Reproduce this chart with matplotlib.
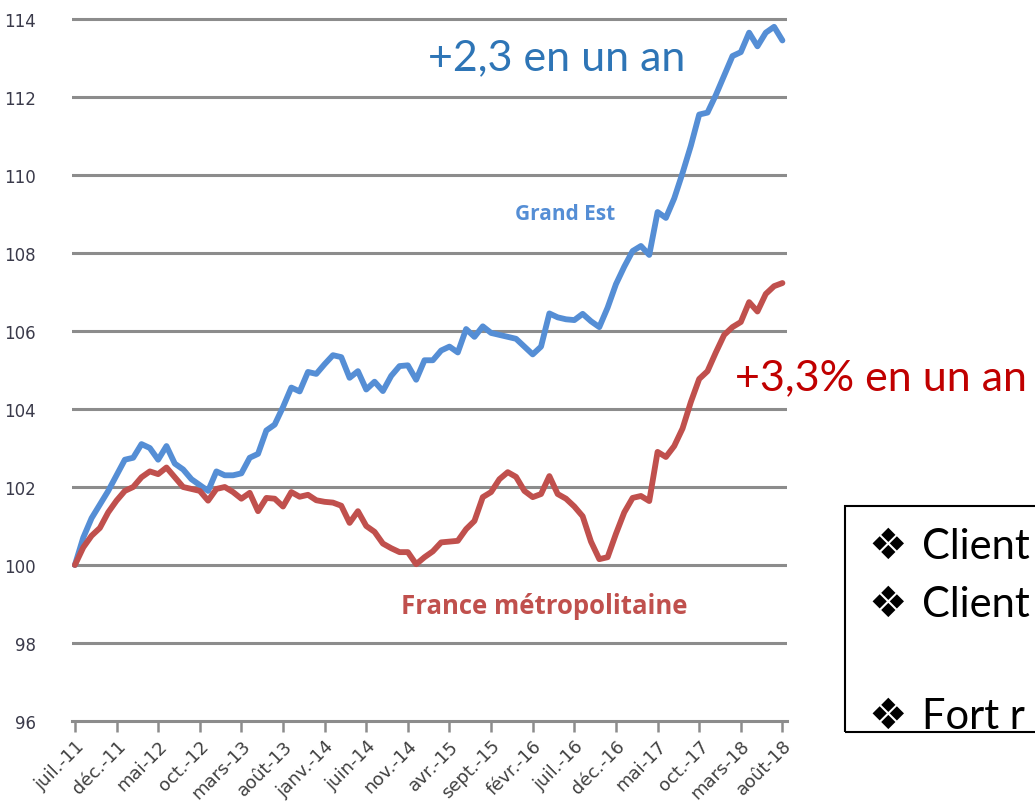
import numpy as np
import matplotlib.pyplot as plt
from matplotlib.patches import Rectangle

# monthly index, juil.-11 .. août-18 (86 months)
grand_est = [
    100.0, 100.7, 101.2, 101.55, 101.9, 102.3, 102.7, 102.75, 103.1, 103.0,
    102.7, 103.05, 102.6, 102.45, 102.2, 102.05, 101.9, 102.4, 102.3, 102.3,
    102.35, 102.75, 102.85, 103.45, 103.6, 104.05, 104.55, 104.45, 104.95, 104.9,
    105.15, 105.38, 105.33, 104.8, 104.97, 104.5, 104.7, 104.46, 104.85, 105.1,
    105.12, 104.75, 105.25, 105.25, 105.5, 105.6, 105.45, 106.05, 105.85, 106.12,
    105.95, 105.9, 105.85, 105.8, 105.6, 105.4, 105.6, 106.45, 106.35, 106.3,
    106.28, 106.44, 106.25, 106.1, 106.6, 107.2, 107.65, 108.05, 108.18, 107.95,
    109.05, 108.9, 109.4, 110.05, 110.75, 111.55, 111.6, 112.05, 112.55, 113.05,
    113.15, 113.65, 113.3, 113.65, 113.8, 113.45,
]
france = [
    100.0, 100.45, 100.75, 100.95, 101.35, 101.65, 101.9, 102.0, 102.25, 102.4,
    102.33, 102.5, 102.25, 102.0, 101.95, 101.9, 101.65, 101.95, 102.0, 101.87,
    101.7, 101.85, 101.38, 101.72, 101.7, 101.5, 101.87, 101.75, 101.8, 101.66,
    101.62, 101.6, 101.52, 101.08, 101.38, 101.0, 100.85, 100.55, 100.43, 100.33,
    100.33, 100.02, 100.2, 100.35, 100.58, 100.6, 100.62, 100.92, 101.13, 101.74,
    101.87, 102.2, 102.38, 102.26, 101.9, 101.74, 101.82, 102.28, 101.82, 101.7,
    101.5, 101.25, 100.6, 100.15, 100.2, 100.8, 101.35, 101.72, 101.77, 101.64,
    102.9, 102.77, 103.05, 103.5, 104.18, 104.77, 104.97, 105.45, 105.9, 106.1,
    106.23, 106.74, 106.5, 106.95, 107.15, 107.23,
]
tick_labels = ["juil.-11", "déc.-11", "mai-12", "oct.-12", "mars-13", "août-13",
               "janv.-14", "juin-14", "nov.-14", "avr.-15", "sept.-15", "févr.-16",
               "juil.-16", "déc.-16", "mai-17", "oct.-17", "mars-18", "août-18"]
y_ticks = [96, 98, 100, 102, 104, 106, 108, 110, 112, 114]
box_lines = ["Client", "Client", "Fort r"]

W, H = 1035, 812


def fx(px):
    return px / W


def fy(py):
    return 1 - py / H


def main():
    fig = plt.figure(figsize=(W / 100, H / 100), dpi=100)
    top_px = 20 - 0.3 * 39
    ax = fig.add_axes([fx(72), fy(722), fx(787) - fx(72), fy(top_px) - fy(722)])

    months = np.arange(len(grand_est))
    ax.set_xlim(-0.35, 85.55)
    ax.set_ylim(96, 114.3)

    for v in y_ticks[1:]:
        ax.axhline(v, color='#8c8c8c', linewidth=2.2, zorder=1)

    ax.plot(months, grand_est, color='#558ed5', linewidth=4.2, zorder=3,
            solid_capstyle='round', solid_joinstyle='round')
    ax.plot(months, france, color='#c0504d', linewidth=4.2, zorder=3,
            solid_capstyle='round', solid_joinstyle='round')

    for s in ['top', 'right', 'left']:
        ax.spines[s].set_visible(False)
    ax.spines['bottom'].set_color('#8c8c8c')
    ax.spines['bottom'].set_linewidth(2.2)

    ax.set_yticks(y_ticks)
    ax.set_yticklabels([str(v) for v in y_ticks], fontsize=12, color='#3a3a4a')
    ax.tick_params(axis='y', length=0, pad=26)

    ax.set_xticks(np.arange(0, 86, 5))
    ax.set_xticklabels(tick_labels, rotation=45, ha='right', va='top',
                       rotation_mode='anchor', fontsize=13, color='#404040')
    ax.tick_params(axis='x', length=8, width=1.8, color='#8c8c8c', pad=3)

    # series labels
    ax.text(58.9, 109.02, "Grand Est", color='#558ed5', fontsize=15,
            fontweight='bold', family='Open Sans', ha='center', va='center')
    ax.text(56.4, 98.97, "France métropolitaine", color='#c0504d', fontsize=18.5,
            fontweight='bold', family='Open Sans', ha='center', va='center')

    # annotations
    fig.text(fx(428), fy(58), "+2,3 en un an", color='#2e75b6', fontsize=31,
             family='Lato', ha='left', va='center')
    fig.text(fx(735), fy(378), "+3,3% en un an", color='#c00000', fontsize=31,
             family='Lato', ha='left', va='center')

    # clipped text box on the right
    fig.patches.append(Rectangle((fx(845), fy(733)), fx(1100) - fx(845),
                                 fy(507) - fy(733), transform=fig.transFigure,
                                 fill=False, edgecolor='black', linewidth=1.5))
    for txt, py in zip(box_lines, [547, 605, 717]):
        fig.text(fx(868), fy(py), "\u2756", color='black', fontsize=31,
                 family='DejaVu Sans', ha='left', va='center')
        fig.text(fx(922), fy(py), txt, color='black', fontsize=30,
                 family='Lato', ha='left', va='center')

    fig.savefig("out.png", dpi=100)


if __name__ == "__main__":
    main()
